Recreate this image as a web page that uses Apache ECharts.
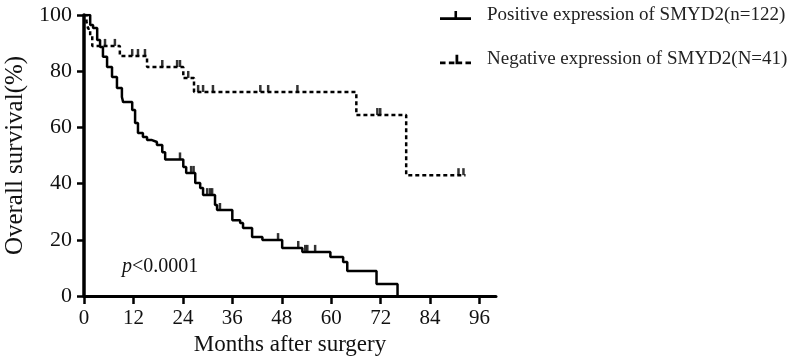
<!DOCTYPE html>
<html>
<head>
<meta charset="utf-8">
<script src="https://cdn.jsdelivr.net/npm/echarts@6/dist/echarts.min.js"></script>
<style>
  html, body { margin: 0; padding: 0; background: #fff; }
  #chart { width: 796px; height: 357px; }
</style>
</head>
<body>
<div id="chart"></div>
<script>
// survival curves (months, % surviving after the step)
var posMonths = [0, 1.5, 2.2, 3.2, 3.9, 4.6, 5.6, 6.8, 8.0, 9.2, 9.5, 11.7, 12.4, 13.1, 14.3, 15.3, 16.5, 17.7, 19.0, 19.7,
    24.1, 24.8, 27.0, 28.2, 28.9, 31.8, 32.3, 36.0, 37.9, 38.6, 40.8, 43.3, 48.1, 53.0, 59.8, 62.9, 63.9, 71.0, 76.1];
var posSurv = [100, 96.4, 95.4, 91.1, 88.6, 85.1, 81.5, 77.9, 74.0, 70.8, 69.0, 66.2, 61.6, 58.0, 56.6, 55.5, 54.8, 53.7, 51.2, 48.6,
    45.9, 43.8, 40.2, 38.4, 35.9, 32.4, 30.6, 27.0, 26.0, 24.2, 21.0, 19.9, 17.1, 15.7, 13.9, 12.1, 8.9, 4.3, 0];
var posCensor = [23.3, 26.0, 26.6, 29.9, 30.6, 31.1, 33.0, 47.1, 52.0, 53.7, 54.2, 56.1];

var negMonths = [0, 0.6, 1.0, 1.5, 2.0, 8.7, 15.3, 24.1, 26.7, 66.1, 78.2, 92.6];
var negSurv = [100, 97.6, 95.1, 92.5, 89.0, 85.4, 81.5, 77.6, 72.6, 64.4, 43.0, 43.0];
var negCensor = [5.1, 7.5, 11.7, 13.1, 14.8, 19.0, 22.6, 23.3, 25.3, 27.7, 28.9, 31.3, 42.8, 44.7, 51.8, 71.2, 71.9, 90.9, 92.1];

var xTicks = [0, 12, 24, 36, 48, 60, 72, 84, 96];
var posName = 'Positive expression of SMYD2(n=122)';
var negName = 'Negative expression of SMYD2(N=41)';

var font = 'Liberation Serif';

function zip(xs, ys) {
    var out = [];
    for (var i = 0; i < xs.length; i++) out.push([xs[i], ys[i]]);
    return out;
}
// censor marks sit on the curve value at that month
function onCurve(times, xs, ys) {
    return times.map(function (t) {
        var v = ys[0];
        for (var i = 0; i < xs.length; i++) {
            if (xs[i] <= t) v = ys[i];
        }
        return [t, v];
    });
}

var myChart = echarts.init(document.getElementById('chart'));

var option = {
    animation: false,
    backgroundColor: '#fff',
    textStyle: { fontFamily: font, color: '#111' },
    grid: { left: 84, right: 300, top: 15, bottom: 61, outerBoundsMode: 'none' },
    title: {
        text: '{i|p}<0.0001',
        left: 117,
        top: 252,
        textStyle: {
            fontFamily: font, fontSize: 20, fontWeight: 'normal', color: '#111',
            rich: { i: { fontFamily: font, fontSize: 20, fontStyle: 'italic', color: '#111' } }
        }
    },
    legend: {
        orient: 'vertical',
        left: 440,
        top: 6,
        padding: 0,
        itemWidth: 31,
        itemHeight: 10,
        itemGap: 25,
        textStyle: { fontFamily: font, fontSize: 19, color: '#222', padding: [0, 0, 0, 11] },
        data: [
            { name: posName, icon: 'path://M0,7h30v2.5h-30Z M14,1h2.5v7h-2.5Z' },
            { name: negName, icon: 'path://M0,7h5v2.5h-5Z M8,7h5v2.5h-5Z M14,1h2.5v8.5h-2.5Z M16,7h4v2.5h-4Z M23,7h5v2.5h-5Z' }
        ]
    },
    xAxis: {
        type: 'value',
        min: 0,
        max: 100,
        interval: 12,
        name: 'Months after surgery',
        nameLocation: 'middle',
        nameGap: 37,
        nameTextStyle: { fontFamily: font, fontSize: 23, color: '#111' },
        splitLine: { show: false },
        axisLine: { lineStyle: { color: '#000', width: 3 } },
        axisTick: { customValues: xTicks, length: 8, lineStyle: { color: '#000', width: 2.5 } },
        axisLabel: { customValues: xTicks, margin: 12, fontFamily: font, fontSize: 21, color: '#111' }
    },
    yAxis: {
        type: 'value',
        min: 0,
        max: 100,
        interval: 20,
        name: 'Overall survival(%)',
        nameLocation: 'middle',
        nameGap: 54,
        nameTextStyle: { fontFamily: font, fontSize: 25, color: '#111' },
        splitLine: { show: false },
        axisLine: { show: true, lineStyle: { color: '#000', width: 3.5 } },
        axisTick: { show: true, length: 7, lineStyle: { color: '#000', width: 2.5 } },
        axisLabel: { margin: 12, fontFamily: font, fontSize: 22, color: '#111' }
    },
    series: [
        {
            name: posName,
            type: 'line',
            step: 'end',
            showSymbol: false,
            color: '#000',
            lineStyle: { color: '#000', width: 2.5 },
            data: zip(posMonths, posSurv)
        },
        {
            name: negName,
            type: 'line',
            step: 'end',
            showSymbol: false,
            color: '#000',
            lineStyle: { color: '#000', width: 2.5, type: [4, 3] },
            data: zip(negMonths, negSurv)
        },
        {
            type: 'scatter',
            silent: true,
            symbol: 'rect',
            symbolSize: [2.5, 7],
            symbolOffset: [0, -3.5],
            itemStyle: { color: '#000' },
            data: onCurve(posCensor, posMonths, posSurv)
        },
        {
            type: 'scatter',
            silent: true,
            symbol: 'rect',
            symbolSize: [2.5, 7],
            symbolOffset: [0, -3.5],
            itemStyle: { color: '#000' },
            data: onCurve(negCensor, negMonths, negSurv)
        }
    ]
};

myChart.setOption(option);
</script>
</body>
</html>
